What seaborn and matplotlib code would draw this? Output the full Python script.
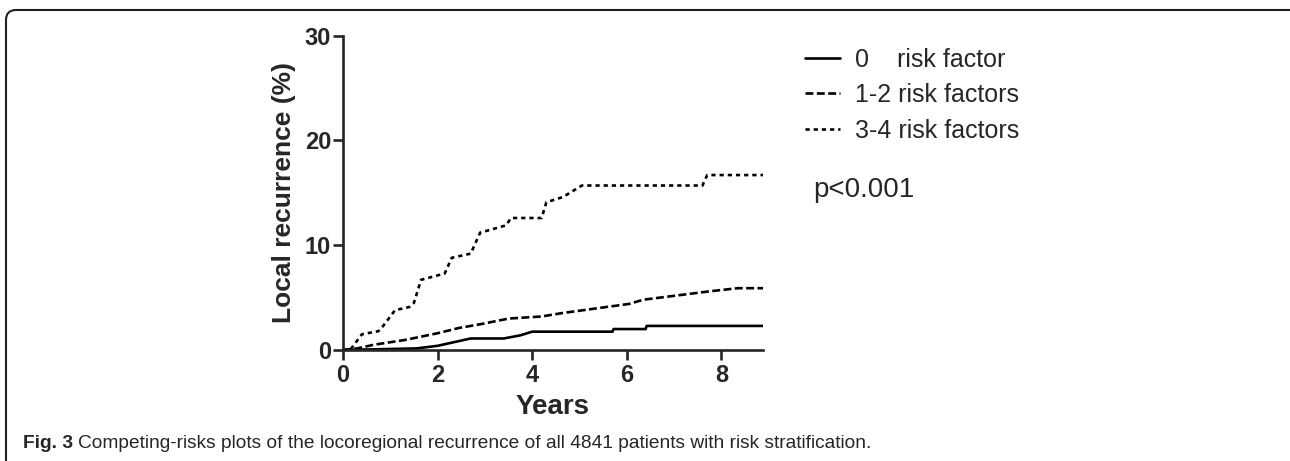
import matplotlib
matplotlib.use("Agg")
import matplotlib.pyplot as plt
import seaborn as sns
import pandas as pd
from matplotlib.patches import FancyBboxPatch
from matplotlib.transforms import IdentityTransform

# curve points (years, local recurrence %)
t_0 = [0, 1.55, 2.0, 2.4, 2.7, 3.4, 3.75, 4.0, 5.7, 5.72, 6.4, 6.42, 8.88]
v_0 = [0, 0.15, 0.4, 0.8, 1.1, 1.1, 1.4, 1.75, 1.75, 2.0, 2.0, 2.3, 2.3]

t_12 = [0, 0.3, 0.65, 1.3, 2.0, 2.45, 2.95, 3.5, 4.2, 4.6, 5.4, 6.05, 6.35, 7.05, 7.75, 8.35, 8.88]
v_12 = [0, 0.15, 0.5, 0.95, 1.6, 2.1, 2.5, 3.0, 3.2, 3.5, 4.0, 4.4, 4.8, 5.2, 5.6, 5.9, 5.9]

t_34 = [0, 0.15, 0.4, 0.75, 0.85, 1.1, 1.4, 1.5, 1.65, 2.15, 2.3, 2.7, 2.9, 3.45, 3.55,
        4.2, 4.3, 4.65, 5.05, 7.6, 7.7, 8.88]
v_34 = [0, 0, 1.5, 1.8, 2.3, 3.8, 4.1, 4.5, 6.7, 7.3, 8.8, 9.2, 11.2, 11.9, 12.6,
        12.6, 14.1, 14.6, 15.7, 15.7, 16.7, 16.7]

groups = ["0    risk factor", "1-2 risk factors", "3-4 risk factors"]
x_ticks = [0, 2, 4, 6, 8]
y_ticks = [0, 10, 20, 30]

sns.set_style("ticks")
plt.rcParams["font.family"] = ["Liberation Sans", "DejaVu Sans"]

fig = plt.figure(figsize=(12.9, 4.61), dpi=100)
ax = fig.add_axes([343 / 1290, 1 - 350 / 461, 420 / 1290, (350 - 35.7) / 461])

lw = 1.9
styles = [None, (3.0, 1.3), (1.6, 1.5)]
for name, t, v, dash in zip(groups, [t_0, t_12, t_34], [v_0, v_12, v_34], styles):
    df = pd.DataFrame({"Years": t, "pct": v})
    sns.lineplot(data=df, x="Years", y="pct", ax=ax, color="black", lw=lw,
                 sort=False, estimator=None, label=name)
    if dash is not None:
        ax.lines[-1].set_dashes(dash)

ax.set_xlim(0, 8.88)
ax.set_ylim(0, 30)
ax.set_xticks(x_ticks)
ax.set_yticks(y_ticks)
ax.tick_params(axis="both", length=7, width=lw, labelsize=17, pad=1.5)
ax.tick_params(axis="x", pad=3)
for lab in ax.get_xticklabels() + ax.get_yticklabels():
    lab.set_fontweight("bold")
for s in ["left", "bottom"]:
    ax.spines[s].set_linewidth(lw)
sns.despine(ax=ax)
ax.set_xlabel("Years", fontsize=20, fontweight="bold", labelpad=5)
ax.set_ylabel("Local recurrence (%)", fontsize=19, fontweight="bold", labelpad=6)

ax.legend(loc="upper left", bbox_to_anchor=(795 / 1290, 1 - 38 / 461),
          bbox_transform=fig.transFigure, frameon=False, fontsize=18,
          handlelength=1.4, handletextpad=0.6, labelspacing=0.45, borderaxespad=0)

fig.text(813 / 1290, 1 - 190 / 461, "p<0.001", fontsize=20, va="center", ha="left")

# caption
cap_y = 1 - 443 / 461
cap_font = ["Liberation Sans Narrow", "Liberation Sans"]
t1 = fig.text(23 / 1290, cap_y, "Fig. 3", fontsize=13.8, fontweight="bold", va="center",
              family=cap_font)
fig.canvas.draw()
bb = t1.get_window_extent()
fig.text((bb.x1 + 5) / 1290, cap_y,
         "Competing-risks plots of the locoregional recurrence of all 4841 patients with risk stratification.",
         fontsize=13.8, va="center", family=cap_font)

# rounded frame around the figure
frame = FancyBboxPatch((6, -30), 1282 + 20, 461 - 10 + 30, boxstyle="round,pad=0,rounding_size=10",
                       transform=IdentityTransform(), fill=False, ec="#222222", lw=1.5)
fig.patches.append(frame)

fig.savefig("out.png", dpi=100)
